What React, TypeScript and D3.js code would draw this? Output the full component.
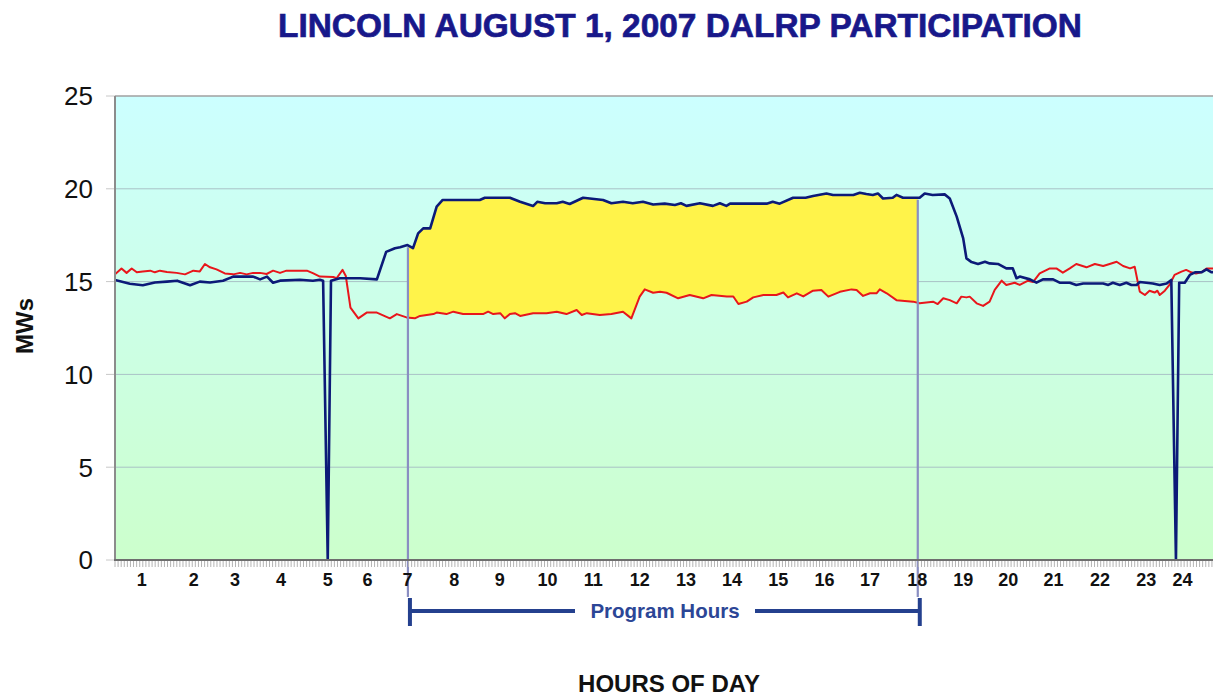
import React from 'react';
import * as d3 from 'd3';

// chart texts
const title = 'LINCOLN AUGUST 1, 2007 DALRP PARTICIPATION';
const yTitle = 'MWs';
const xTitle = 'HOURS OF DAY';
const programLabel = 'Program Hours';

// program window (hours)
const programStart = 7;
const programEnd = 18;

// y axis ticks (MW)
const yTicks = [0, 5, 10, 15, 20, 25];

// x tick labels and the hour position where each one sits on the category axis
const hourLabels = ['1', '2', '3', '4', '5', '6', '7', '8', '9', '10', '11', '12',
  '13', '14', '15', '16', '17', '18', '19', '20', '21', '22', '23', '24'];
const hourLabelAt = [1.26, 2.38, 3.27, 4.26, 5.27, 6.13, 6.99, 8.0, 8.98, 10.01, 11.0, 12.0,
  13.0, 13.99, 14.99, 15.99, 16.97, 17.99, 18.98, 19.95, 20.93, 21.93, 22.93, 23.71];

// baseline load (blue) [hour, MW]
const baselineLoad: [number, number][] = [
  [0.68, 15.09], [1.0, 14.88], [1.28, 14.8], [1.54, 14.95], [1.8, 15.0], [2.02, 15.05], [2.3, 14.8],
  [2.51, 15.0], [2.73, 14.95], [3.01, 15.05], [3.23, 15.27], [3.66, 15.27], [3.81, 15.12], [3.96, 15.27],
  [4.09, 14.94], [4.24, 15.05], [4.67, 15.1], [4.95, 15.05], [5.1, 15.1], [5.17, 15.05], [5.27, 0],
  [5.34, 15.05], [5.53, 15.18], [5.97, 15.18], [6.33, 15.12], [6.53, 16.6], [6.72, 16.8], [6.83, 16.85],
  [6.99, 16.97], [7.11, 16.8], [7.22, 17.6], [7.33, 17.87], [7.48, 17.87], [7.62, 19.04], [7.75, 19.4],
  [8.55, 19.4], [8.66, 19.52], [9.2, 19.52], [9.42, 19.3], [9.7, 19.07], [9.79, 19.3], [9.96, 19.22],
  [10.21, 19.22], [10.34, 19.3], [10.49, 19.18], [10.78, 19.52], [11.21, 19.4], [11.39, 19.22],
  [11.64, 19.3], [11.85, 19.22], [12.07, 19.3], [12.29, 19.15], [12.54, 19.2], [12.76, 19.13],
  [12.89, 19.22], [13.01, 19.08], [13.3, 19.22], [13.58, 19.08], [13.73, 19.22], [13.87, 19.08],
  [13.95, 19.2], [14.74, 19.2], [14.87, 19.3], [15.02, 19.2], [15.31, 19.52], [15.58, 19.52],
  [15.74, 19.61], [16.03, 19.75], [16.17, 19.67], [16.61, 19.67], [16.75, 19.79], [16.89, 19.72],
  [17.03, 19.67], [17.14, 19.75], [17.25, 19.48], [17.46, 19.52], [17.54, 19.67], [17.68, 19.52],
  [18.04, 19.52], [18.15, 19.75], [18.32, 19.67], [18.58, 19.7], [18.69, 19.48], [18.84, 18.5],
  [18.98, 17.33], [19.05, 16.25], [19.16, 16.05], [19.3, 15.95], [19.45, 16.07], [19.55, 15.98],
  [19.73, 15.95], [19.91, 15.71], [20.05, 15.71], [20.13, 15.18], [20.2, 15.27], [20.42, 15.12],
  [20.56, 14.94], [20.7, 15.12], [20.92, 15.12], [21.06, 14.94], [21.28, 14.94], [21.42, 14.82],
  [21.57, 14.9], [22.0, 14.9], [22.11, 14.82], [22.21, 14.94], [22.36, 14.82], [22.5, 14.94],
  [22.61, 14.82], [22.72, 14.82], [22.79, 14.98], [23.07, 14.9], [23.22, 14.82], [23.37, 14.9],
  [23.47, 15.09], [23.57, 0], [23.64, 14.94], [23.76, 14.94], [23.87, 15.36], [23.98, 15.5],
  [24.12, 15.5], [24.23, 15.66], [24.34, 15.5], [24.52, 15.55],
];

// actual load (red) [hour, MW]
const actualLoad: [number, number][] = [
  [0.68, 15.39], [0.82, 15.71], [0.93, 15.47], [1.04, 15.71], [1.15, 15.5], [1.28, 15.55], [1.44, 15.59],
  [1.54, 15.5], [1.65, 15.59], [1.8, 15.52], [2.01, 15.47], [2.19, 15.39], [2.37, 15.59], [2.51, 15.55],
  [2.62, 15.95], [2.73, 15.77], [2.87, 15.66], [3.05, 15.44], [3.23, 15.39], [3.38, 15.47], [3.52, 15.39],
  [3.66, 15.47], [3.81, 15.47], [3.95, 15.41], [4.09, 15.59], [4.24, 15.47], [4.38, 15.59], [4.82, 15.59],
  [4.96, 15.44], [5.1, 15.27], [5.39, 15.25], [5.46, 15.18], [5.59, 15.63], [5.66, 15.3], [5.76, 13.6],
  [5.93, 13.02], [6.11, 13.33], [6.33, 13.33], [6.61, 13.02], [6.76, 13.25], [6.97, 13.07], [7.15, 13.02],
  [7.26, 13.15], [7.55, 13.25], [7.62, 13.33], [7.83, 13.25], [7.98, 13.38], [8.19, 13.25], [8.62, 13.25],
  [8.73, 13.38], [8.84, 13.25], [8.99, 13.3], [9.09, 13.02], [9.2, 13.25], [9.31, 13.3], [9.42, 13.15],
  [9.7, 13.3], [9.99, 13.3], [10.21, 13.38], [10.42, 13.25], [10.64, 13.47], [10.75, 13.2], [10.86, 13.3],
  [11.14, 13.2], [11.39, 13.25], [11.64, 13.38], [11.82, 13.02], [12.0, 14.19], [12.11, 14.58],
  [12.29, 14.4], [12.44, 14.45], [12.58, 14.4], [12.83, 14.1], [13.08, 14.28], [13.37, 14.1],
  [13.55, 14.28], [13.88, 14.2], [14.02, 14.2], [14.13, 13.79], [14.31, 13.92], [14.45, 14.15],
  [14.67, 14.28], [14.95, 14.28], [15.1, 14.41], [15.2, 14.15], [15.39, 14.37], [15.53, 14.2],
  [15.74, 14.51], [15.92, 14.55], [16.07, 14.19], [16.32, 14.45], [16.57, 14.58], [16.68, 14.55],
  [16.82, 14.23], [16.97, 14.37], [17.11, 14.37], [17.18, 14.58], [17.33, 14.37], [17.54, 14.0],
  [17.9, 13.92], [18.04, 13.83], [18.33, 13.92], [18.43, 13.79], [18.55, 14.1], [18.69, 14.0],
  [18.84, 13.83], [18.94, 14.19], [19.05, 14.15], [19.12, 14.19], [19.27, 13.83], [19.41, 13.69],
  [19.55, 13.92], [19.66, 14.55], [19.81, 15.05], [19.91, 14.82], [20.09, 14.94], [20.2, 14.82],
  [20.38, 15.05], [20.49, 14.98], [20.63, 15.44], [20.85, 15.71], [20.99, 15.71], [21.13, 15.48],
  [21.28, 15.71], [21.42, 15.95], [21.64, 15.77], [21.82, 15.95], [22.0, 15.84], [22.14, 15.95],
  [22.29, 16.07], [22.43, 15.84], [22.58, 15.71], [22.68, 15.8], [22.75, 14.94], [22.79, 14.46],
  [22.9, 14.28], [23.0, 14.51], [23.11, 14.41], [23.17, 14.51], [23.22, 14.28], [23.33, 14.51],
  [23.43, 14.82], [23.54, 15.36], [23.69, 15.54], [23.79, 15.63], [23.9, 15.5], [24.0, 15.44],
  [24.12, 15.5], [24.23, 15.71], [24.34, 15.71], [24.52, 15.7],
];

const W = 1213;
const H = 698;
const left = 115;
const right = 1226; // plot runs past the picture's right edge
const top = 96;
const bottom = 560;

// linear read of a series at hour h
function valueAt(series: [number, number][], h: number) {
  for (let i = 0; i < series.length - 1; i++) {
    const [h0, v0] = series[i];
    const [h1, v1] = series[i + 1];
    if (h >= h0 && h <= h1) return v0 + (v1 - v0) * (h - h0) / (h1 - h0);
  }
  return series[series.length - 1][1];
}

export default function App() {
  const x = d3.scaleLinear().domain([0.68, 24.65]).range([left, right]);
  const y = d3.scaleLinear().domain([0, 25]).range([bottom, top]);

  const line = d3.line<[number, number]>().x(d => x(d[0])).y(d => y(d[1]));

  // savings band between baseline and actual during program hours
  const bandHours = Array.from(new Set([
    programStart, programEnd,
    ...baselineLoad.map(d => d[0]), ...actualLoad.map(d => d[0]),
  ])).filter(h => h >= programStart && h <= programEnd).sort((a, b) => a - b);
  const band = bandHours.map(h => ({ h, hi: valueAt(baselineLoad, h), lo: valueAt(actualLoad, h) }));
  const area = d3.area<{ h: number; hi: number; lo: number }>()
    .x(d => x(d.h)).y0(d => y(d.lo)).y1(d => y(d.hi));

  // small category ticks under the axis
  const minorTicks = d3.range(x.domain()[0], x.domain()[1], 1 / 15);

  const xs = x(programStart);
  const xe = x(programEnd);
  const bracketY = 611;
  const blue = '#0c1a78';
  const red = '#e8161b';
  const navy = '#18188a';
  const bracket = '#24408e';

  return (
    <svg width={W} height={H} style={{ position: 'absolute', left: 0, top: 0, background: '#fff' }}
      fontFamily="'Liberation Sans', Arial, sans-serif">
      <defs>
        <linearGradient id="bg" x1="0" y1="0" x2="0" y2="1">
          <stop offset="0" stopColor="#ccffff" />
          <stop offset="1" stopColor="#ccffcc" />
        </linearGradient>
        <clipPath id="plot">
          <rect x={left} y={top - 2} width={right - left} height={bottom - top + 2} />
        </clipPath>
      </defs>

      <text x={680} y={37} textAnchor="middle" fontSize={34} fontWeight="bold" fill={navy}
        stroke={navy} strokeWidth={0.7} textLength={804} lengthAdjust="spacingAndGlyphs">{title}</text>

      <rect x={left} y={top} width={right - left} height={bottom - top} fill="url(#bg)" />

      {yTicks.filter(t => t > 0 && t < 25).map(t => (
        <line key={t} x1={left} x2={right} y1={y(t)} y2={y(t)} stroke="#a9c2c6" strokeWidth={1} />
      ))}
      {yTicks.map(t => (
        <g key={'yt' + t}>
          <line x1={left - 9} x2={left} y1={y(t)} y2={y(t)} stroke="#c8c8c8" strokeWidth={1} />
          <text x={93} y={y(t)} dy="0.36em" textAnchor="end" fontSize={26} fill="#111">{t}</text>
        </g>
      ))}
      <line x1={left} x2={right} y1={top} y2={top} stroke="#a0a0a0" strokeWidth={1.5} />

      <path d={area(band) ?? ''} fill="#fff34a" clipPath="url(#plot)" />

      <g clipPath="url(#plot)" fill="none" strokeLinejoin="round">
        <path d={line(actualLoad) ?? ''} stroke={red} strokeWidth={2} />
        <path d={line(baselineLoad) ?? ''} stroke={blue} strokeWidth={2.6} />
      </g>

      {[programStart, programEnd].map(h => (
        <line key={'pl' + h} x1={x(h)} x2={x(h)} y1={y(valueAt(baselineLoad, h)) + 2} y2={597}
          stroke="#8a8ec2" strokeWidth={2.2} />
      ))}

      <line x1={left} x2={left} y1={top} y2={bottom} stroke="#8c8c8c" strokeWidth={2} />
      {minorTicks.map((h, i) => (
        <line key={'mt' + i} x1={x(h)} x2={x(h)} y1={bottom} y2={bottom + 7} stroke="#b4b4b4" strokeWidth={1} />
      ))}
      <line x1={left - 1} x2={right} y1={bottom} y2={bottom} stroke="#6e6e6e" strokeWidth={2} />

      {hourLabels.map((lab, i) => (
        <text key={'xl' + i} x={x(hourLabelAt[i])} y={586} textAnchor="middle" fontSize={18}
          fontWeight="bold" fill="#111">{lab}</text>
      ))}

      {/* program hours bracket */}
      <g stroke={bracket} strokeWidth={4}>
        <line x1={xs + 2} x2={xs + 2} y1={598} y2={626} />
        <line x1={xe + 2} x2={xe + 2} y1={598} y2={626} />
        <line x1={xs + 2} x2={575} y1={bracketY} y2={bracketY} />
        <line x1={755} x2={xe + 2} y1={bracketY} y2={bracketY} />
      </g>
      <text x={665} y={bracketY} dy="0.36em" textAnchor="middle" fontSize={20.5} fontWeight="bold"
        fill="#2c4696">{programLabel}</text>

      <text transform="translate(33,326) rotate(-90)" textAnchor="middle" fontSize={24} fontWeight="bold"
        fill="#111">{yTitle}</text>
      <text x={669} y={692} textAnchor="middle" fontSize={24} fontWeight="bold" fill="#111">{xTitle}</text>
    </svg>
  );
}
